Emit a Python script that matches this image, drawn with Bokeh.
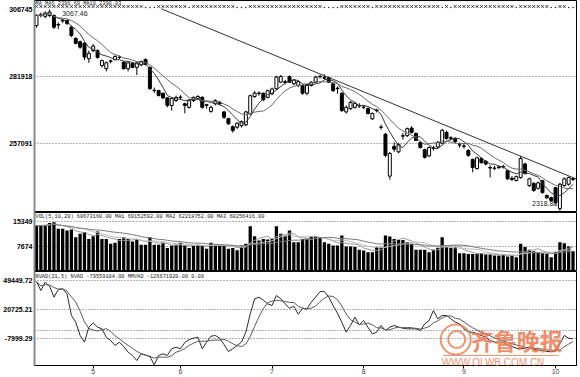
import pandas as pd
from bokeh.plotting import figure
from bokeh.layouts import column
from bokeh.models import ColumnDataSource, Range1d, FixedTicker, Label
from bokeh.embed import file_html
from bokeh.resources import INLINE

# ---------------- data ----------------
opens = [3008, 3047, 3042, 3045, 3045, 3010, 3025, 3027, 3002, 2960, 2948, 2943, 2885, 2915, 2915, 2860, 2848, 2875, 2882, 2890,
         2872, 2848, 2867, 2853, 2862, 2882, 2853, 2767, 2767, 2757, 2740, 2712, 2730, 2741, 2718, 2705, 2730, 2737, 2742, 2712,
         2690, 2718, 2724, 2688, 2663, 2633, 2631, 2637, 2640, 2681, 2745, 2758, 2757, 2742, 2755, 2774, 2798, 2800, 2819, 2792,
         2786, 2786, 2757, 2786, 2798, 2818, 2815, 2815, 2792, 2776, 2757, 2688, 2700, 2705, 2712, 2706, 2700, 2662, 2695, 2632,
         2605, 2450, 2560, 2540, 2598, 2600, 2628, 2608, 2575, 2548, 2525, 2555, 2558, 2572, 2612, 2592, 2590, 2565, 2560, 2545,
         2512, 2478, 2515, 2505, 2482, 2480, 2484, 2486, 2470, 2442, 2434, 2445, 2495, 2415, 2423, 2405, 2433, 2378, 2370, 2407,
         2330, 2415, 2420, 2440]
highs = [3050, 3056, 3060, 3067.46, 3050, 3020, 3032, 3030, 3008, 2965, 2952, 2945, 2915, 2940, 2920, 2882, 2875, 2882, 2898, 2896,
         2876, 2872, 2872, 2873, 2878, 2886, 2856, 2778, 2770, 2760, 2742, 2742, 2748, 2750, 2722, 2735, 2745, 2750, 2746, 2718,
         2712, 2735, 2728, 2692, 2666, 2638, 2650, 2656, 2692, 2752, 2765, 2764, 2760, 2770, 2778, 2822, 2825, 2806, 2823, 2810,
         2804, 2790, 2790, 2802, 2822, 2825, 2827, 2818, 2795, 2782, 2760, 2712, 2728, 2725, 2720, 2712, 2705, 2686, 2700, 2640,
         2610, 2540, 2575, 2572, 2610, 2630, 2635, 2612, 2578, 2552, 2560, 2562, 2580, 2625, 2618, 2598, 2594, 2575, 2570, 2550,
         2515, 2522, 2520, 2510, 2490, 2488, 2490, 2492, 2474, 2450, 2452, 2525, 2500, 2444, 2428, 2430, 2436, 2382, 2374, 2410,
         2425, 2445, 2448, 2446]
lows = [3000, 3038, 3035, 3040, 2995, 2995, 3018, 3010, 2965, 2938, 2922, 2880, 2870, 2910, 2885, 2852, 2838, 2868, 2878, 2884,
        2845, 2838, 2850, 2825, 2858, 2860, 2770, 2758, 2745, 2735, 2705, 2693, 2725, 2735, 2683, 2700, 2725, 2733, 2700, 2700,
        2685, 2712, 2712, 2662, 2640, 2611, 2625, 2630, 2635, 2678, 2740, 2748, 2728, 2738, 2750, 2770, 2795, 2790, 2795, 2788,
        2780, 2752, 2750, 2782, 2795, 2812, 2808, 2795, 2762, 2755, 2688, 2682, 2695, 2700, 2702, 2698, 2678, 2658, 2686, 2622,
        2520, 2437, 2540, 2535, 2585, 2595, 2608, 2580, 2552, 2515, 2520, 2545, 2552, 2568, 2585, 2582, 2572, 2555, 2552, 2522,
        2464, 2474, 2496, 2490, 2445, 2472, 2476, 2478, 2436, 2432, 2430, 2440, 2455, 2410, 2392, 2400, 2385, 2365, 2355, 2345,
        2318.88, 2410, 2415, 2432]
closes = [3045, 3049, 3055, 3058, 3002, 3012, 3027, 3016, 2971, 2942, 2928, 2891, 2905, 2932, 2890, 2878, 2870, 2877, 2893, 2890,
          2848, 2870, 2853, 2870, 2875, 2864, 2774, 2768, 2749, 2740, 2712, 2738, 2742, 2743, 2712, 2730, 2742, 2745, 2705, 2715,
          2705, 2730, 2718, 2668, 2644, 2619, 2646, 2652, 2688, 2748, 2758, 2756, 2733, 2767, 2773, 2817, 2819, 2798, 2798, 2806,
          2800, 2757, 2786, 2798, 2817, 2820, 2813, 2798, 2767, 2774, 2693, 2705, 2723, 2720, 2710, 2705, 2682, 2682, 2693, 2631,
          2527, 2534, 2550, 2568, 2600, 2626, 2612, 2582, 2556, 2520, 2556, 2553, 2575, 2620, 2590, 2590, 2578, 2566, 2562, 2527,
          2482, 2518, 2500, 2495, 2480, 2478, 2482, 2484, 2440, 2438, 2448, 2515, 2460, 2440, 2397, 2425, 2389, 2370, 2360, 2352,
          2420, 2440, 2445, 2438]
volumes = [14100, 14100, 14300, 14900, 15150, 13100, 13100, 12600, 12900, 10500, 11600, 12100, 10000, 10800, 12300, 10000, 10000, 8500, 8800, 10000,
           10500, 10000, 9200, 10000, 8200, 8200, 10500, 8200, 8200, 8800, 7200, 8000, 8200, 8800, 8000, 7200, 8000, 8200, 8000, 7000,
           8800, 8200, 8000, 8000, 7000, 7200, 6500, 8000, 8500, 13900, 10800, 9500, 10000, 9800, 10000, 13900, 11600, 11000, 12600, 9000,
           9000, 10000, 10300, 10750, 10750, 10500, 9000, 8500, 8000, 8000, 11050, 7700, 7700, 7500, 6700, 6450, 5900, 5900, 7500, 7500,
           11050, 10750, 10000, 9700, 9700, 9000, 8500, 6700, 6700, 6700, 5900, 6700, 7300, 10500, 7500, 7300, 7500, 5600, 5600, 5400,
           5400, 5400, 5600, 5200, 5200, 4900, 4900, 5200, 4600, 4900, 4400, 8500, 7500, 6700, 6250, 5900, 5600, 5400, 4400, 5900,
           9000, 8700, 7700, 6250]
nvad = [48500, 39500, 47800, 43800, 33000, 40500, 41200, 36200, 14800, 8200, -5000, -11600, 3200, 7500, 3200, 1600, -6700, -10000, -14900, -11600,
        -16000, -21500, -24800, -29800, -23200, -24200, -26000, -34100, -24800, -23200, -24800, -18200, -16600, -18200, -12000, -9000, -7700, -6700, -18200, -11600,
        -5700, -5000, -7700, -14000, -20900, -18200, -14900, -11600, -1700, 16400, 31300, 32900, 30000, 26300, 24700, 34600, 31300, 26300, 22000, 24000,
        16000, 22000, 21400, 28000, 33000, 38500, 38500, 33000, 24700, 17000, 8000, -1700, 4900, 13100, 5500, 9800, 3000, -3400, -1700, 4900,
        -100, 3200, 4900, 3200, 2200, 1600, 1600, 1600, -100, 6500, 9800, 19700, 11500, 14800, 14800, 11500, 8200, 6500, 1600, -1700,
        -1700, -3400, -5000, -6700, -10000, -11600, -11600, -11600, -14900, -16000, -17600, -18200, -17500, -16600, -18900, -19500, -19900, -20900, -20900, -20900,
        -13300, -5000, -7700, -8300]
# per-bar information marks on the top row: x = mark, . = dot
info_marks = "x" * 25 + "." * 3 + "x" * 7 + "." + "x" * 10 + "." * 3 + "x" * 17 + "." * 4 + "x" * 7 + "." + \
             "x" * 15 + "." + "x" + "." + "x" * 14 + "." + "x" * 7 + "." * 2 + "x" * 2 + "." * 2

price_ticks = [3067.45, 2819.18, 2570.91]
price_tick_labels = ["306745", "281918", "257091"]
vol_ticks = [15349, 7674]
vol_tick_labels = ["15349", "7674"]
nvad_ticks = [49449.72, 20725.21, -7999.29]
nvad_tick_labels = ["49449.72", "20725.21", "-7999.29"]
month_start_bars = [13, 33, 54, 75, 98, 119]
month_labels = ["5", "6", "7", "8", "9", "10"]
trend_bars = [28.6, 123.8]
trend_prices = [3070, 2439]
price_header = "MA  MA5 2396.69  MA10 2390.03"
vol_header = "VOL(5,10,20)  60673160.00  MA1 69152592.00  MA2 62218752.00  MA3 60256416.00"
nvad_header = "NVAD(21,5)  NVAD -79559104.00  MMVAD -126671920.00  0.00"
high_label = "3067.46"
low_label = "2318.88"
period_label = "日线"
watermark_cn = "齐鲁晚报"
watermark_url = "WWW.QLWB.COM.CN"

# ---------------- layout constants ----------------
n = min(len(opens), len(highs), len(lows), len(closes), len(volumes), len(nvad))
idx = list(range(n))
W = 580
LEFT, RIGHT = 33, 4
BAR_PX = 4.37
FIRST_BAR_PX = 35.0
H_PRICE, H_VOL, H_NVAD, H_AXIS = 212, 59, 94, 12
x_start = -(FIRST_BAR_PX - LEFT) / BAR_PX
x_end = x_start + (W - LEFT - RIGHT) / BAR_PX

def bar_at_px(xp):
    return (xp - FIRST_BAR_PX) / BAR_PX

price_ppu = 67.0 / (price_ticks[1] - price_ticks[2])
price_end = price_ticks[0] + 9 / price_ppu
price_start = price_end - H_PRICE / price_ppu
def price_at_px(yp):
    return price_end - yp / price_ppu

vol_ppu = 25.0 / vol_ticks[1]
vol_end = H_VOL / vol_ppu
def vol_at_px(yp):
    return vol_end - yp / vol_ppu

nvad_ppu = 29.0 / (nvad_ticks[1] - nvad_ticks[2])
nvad_end = nvad_ticks[0] + 9 / nvad_ppu
nvad_start = nvad_end - H_NVAD / nvad_ppu
def nvad_at_px(yp):
    return nvad_end - yp / nvad_ppu

LABEL_FONT = "Liberation Sans"
MONO = "Liberation Mono"
GRID_COLOR = "#666666"
ORANGE = "#EC7A50"


def base_fig(height, y_start, y_end, ticks, labels, bottom_axis=False):
    p = figure(width=W, height=height + (H_AXIS if bottom_axis else 0),
               x_range=Range1d(x_start, x_end), y_range=Range1d(y_start, y_end),
               output_backend="svg", toolbar_location=None,
               x_axis_location="below" if bottom_axis else None,
               min_border=0, min_border_left=LEFT, min_border_right=RIGHT,
               min_border_bottom=H_AXIS if bottom_axis else 0, min_border_top=0)
    p.outline_line_color = "black"
    p.outline_line_width = 1
    p.background_fill_color = "white"
    p.border_fill_color = "white"
    ax = p.yaxis[0]
    ax.ticker = FixedTicker(ticks=ticks)
    ax.major_label_overrides = {t: l for t, l in zip(ticks, labels)}
    ax.major_tick_out = 0
    ax.major_tick_in = 0
    ax.minor_tick_out = 0
    ax.minor_tick_in = 0
    ax.axis_line_color = "#8a8a8a"
    ax.axis_line_width = 2
    ax.major_label_text_font = LABEL_FONT
    ax.major_label_text_font_size = "7px"
    ax.major_label_text_font_style = "bold"
    ax.major_label_text_color = "black"
    ax.major_label_standoff = 2
    p.xgrid.visible = False
    p.ygrid.grid_line_color = GRID_COLOR
    p.ygrid.grid_line_dash = "1 2"
    p.ygrid.grid_line_width = 1
    return p


def left_block(p, y_data):
    # solid black block in the left label panel
    p.add_layout(Label(x=bar_at_px(17), y=y_data, text="\u2588" * 7, text_align="center",
                       text_baseline="middle", text_font="DejaVu Sans Mono", text_font_size="6.5px",
                       text_color="black"))

# ---------------- price pane ----------------
p1 = base_fig(H_PRICE, price_start, price_end, price_ticks, price_tick_labels)
p1.ygrid.ticker = FixedTicker(ticks=price_ticks[1:])

up = [closes[i] >= opens[i] for i in idx]
csrc = ColumnDataSource(dict(
    x=idx,
    top=[max(opens[i], closes[i]) for i in idx],
    bottom=[min(opens[i], closes[i]) for i in idx],
    high=highs[:n], low=lows[:n],
    fill=["white" if u else "black" for u in up],
))
p1.segment(x0="x", y0="low", x1="x", y1="high", source=csrc, line_color="black", line_width=1)
p1.vbar(x="x", top="top", bottom="bottom", width=0.68, source=csrc,
        fill_color="fill", line_color="black", line_width=1)

cs = pd.Series(closes[:n], dtype=float)
p1.line(idx, cs.rolling(5, min_periods=1).mean().tolist(), line_color="#3a3a3a", line_width=1)
p1.line(idx, cs.rolling(10, min_periods=1).mean().tolist(), line_color="#6a6a6a", line_width=1)
p1.line(trend_bars, trend_prices, line_color="#333333", line_width=1)

mark_x = [i for i in idx if info_marks[i] == "x"]
dot_x = [i for i in idx if info_marks[i] == "."]
p1.scatter(mark_x, [price_at_px(6)] * len(mark_x), marker="x", size=3.5, line_color="#222222", line_width=1)
p1.scatter(dot_x, [price_at_px(7)] * len(dot_x), marker="circle", size=1.5, fill_color="#222222", line_color=None)

p1.add_layout(Label(x=bar_at_px(34), y=price_at_px(0), text=price_header, text_baseline="top",
                    text_font=MONO, text_font_size="5.3px", text_color="#222222"))
i_hi = max(idx, key=lambda i: highs[i])
i_lo = min(idx, key=lambda i: lows[i])
p1.add_layout(Label(x=i_hi + 2.9, y=highs[i_hi] - 4 / price_ppu, text=high_label, text_baseline="middle",
                    text_font=LABEL_FONT, text_font_size="7px", text_color="#222222"))
p1.add_layout(Label(x=i_lo - 0.6, y=lows[i_lo] + 8 / price_ppu, text=low_label, text_baseline="middle",
                    text_align="right", text_font=LABEL_FONT, text_font_size="7px", text_color="#222222"))
p1.add_layout(Label(x=-31, y=H_PRICE - 5, x_units="screen", y_units="screen", text=period_label,
                    text_baseline="middle", text_font="Noto Sans CJK SC", text_font_size="8px",
                    text_color="black"))

# ---------------- volume pane ----------------
p2 = base_fig(H_VOL, 0, vol_end, vol_ticks, vol_tick_labels)
p2.ygrid.ticker = FixedTicker(ticks=vol_ticks)
p2.vbar(x=idx, top=volumes[:n], bottom=0, width=0.75, fill_color="black", line_color=None)
vs = pd.Series(volumes[:n], dtype=float)
for win, col in ((5, "#9a9a9a"), (10, "#bdbdbd"), (20, "#7a7a7a")):
    p2.line(idx, vs.rolling(win, min_periods=1).mean().tolist(), line_color=col, line_width=1)
p2.add_layout(Label(x=bar_at_px(34), y=vol_end - 1 / vol_ppu, text=vol_header, text_baseline="top",
                    text_font=MONO, text_font_size="5.3px", text_color="#222222"))
left_block(p2, vol_at_px(51))

# ---------------- NVAD pane ----------------
p3 = base_fig(H_NVAD, nvad_start, nvad_end, nvad_ticks, nvad_tick_labels, bottom_axis=True)
p3.ygrid.ticker = FixedTicker(ticks=nvad_ticks + [0])
ns = pd.Series(nvad[:n], dtype=float)
p3.line(idx, nvad[:n], line_color="#2a2a2a", line_width=1)
p3.line(idx, ns.rolling(5, min_periods=1).mean().tolist(), line_color="#5a5a5a", line_width=1)
p3.add_layout(Label(x=bar_at_px(34), y=nvad_at_px(2), text=nvad_header, text_baseline="top",
                    text_font=MONO, text_font_size="5.3px", text_color="#222222"))
left_block(p3, nvad_at_px(89))
xa = p3.xaxis[0]
xa.ticker = FixedTicker(ticks=month_start_bars)
xa.major_label_overrides = {b: l for b, l in zip(month_start_bars, month_labels)}
xa.major_tick_out = 3
xa.major_tick_in = 0
xa.minor_tick_out = 0
xa.minor_tick_in = 0
xa.axis_line_color = "black"
xa.major_label_text_font = LABEL_FONT
xa.major_label_text_font_size = "7px"
xa.major_label_standoff = 0

# watermark
wm_y = nvad_at_px(68)
p3.scatter([bar_at_px(455)], [wm_y], marker="circle", size=30, fill_color=None, line_color=ORANGE, line_width=2, alpha=0.8)
p3.scatter([bar_at_px(456)], [wm_y], marker="circle", size=17, fill_color=None, line_color=ORANGE, line_width=2, alpha=0.8)
p3.add_layout(Label(x=bar_at_px(470), y=wm_y, text=watermark_cn, text_baseline="middle",
                    text_font="Noto Sans CJK SC", text_font_size="23px", text_font_style="bold",
                    text_color=ORANGE, text_alpha=0.85))
p3.line([bar_at_px(442), bar_at_px(558)], [nvad_at_px(84)] * 2, line_color=ORANGE, line_width=1, alpha=0.8)
p3.add_layout(Label(x=bar_at_px(441), y=nvad_at_px(91), text=watermark_url, text_baseline="middle",
                    text_font=LABEL_FONT, text_font_size="10px", text_color=ORANGE, text_alpha=0.85))

layout = column(p1, p2, p3, spacing=0)
open("out.html", "w").write(file_html(layout, INLINE))
